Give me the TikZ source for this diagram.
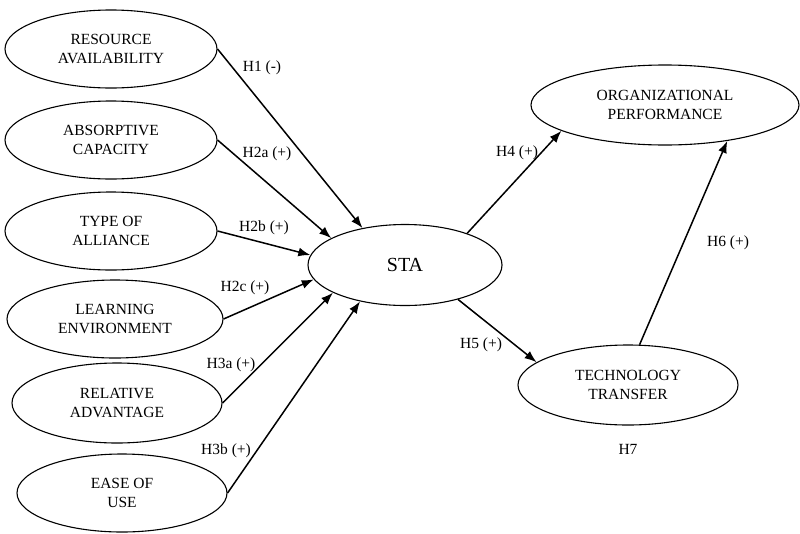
\documentclass[tikz,border=0pt]{standalone}
\usepackage{fontspec}
\setmainfont{Liberation Serif}
\usetikzlibrary{shapes.geometric,arrows.meta}
\tikzset{
  construct/.style={draw, ellipse, line width=1.1pt, inner sep=0pt, align=center,
    font=\fontsize{15.5}{18.5}\selectfont},
  link/.style={line width=1.5pt, -{Latex[length=12pt,width=9pt]}},
  hyp/.style={font=\fontsize{15.5}{18.5}\selectfont, inner sep=0pt}
}
\begin{document}
\begin{tikzpicture}[x=1pt,y=-1pt]
\useasboundingbox (0,0) rectangle (800,533);
% left constructs
\node[construct, minimum width=212pt, minimum height=78pt] (ra) at (111,49) {RESOURCE\\AVAILABILITY};
\node[construct, minimum width=212pt, minimum height=78pt] (ac) at (111,140) {ABSORPTIVE\\CAPACITY};
\node[construct, minimum width=212pt, minimum height=78pt] (ta) at (111,231) {TYPE OF\\ALLIANCE};
\node[construct, minimum width=216pt, minimum height=78pt] (le) at (115,319) {LEARNING\\ENVIRONMENT};
\node[construct, minimum width=210pt, minimum height=80pt] (rv) at (117,403) {RELATIVE\\ADVANTAGE};
\node[construct, minimum width=210pt, minimum height=78pt] (eu) at (122,493) {EASE OF\\USE};
% centre
\node[construct, minimum width=194pt, minimum height=81pt, font=\fontsize{20}{24}\selectfont] (sta) at (405,265) {STA};
% right constructs
\node[construct, minimum width=268pt, minimum height=80pt] (op) at (665,105) {ORGANIZATIONAL\\PERFORMANCE};
\node[construct, minimum width=220pt, minimum height=80pt] (tt) at (628,385) {TECHNOLOGY\\TRANSFER};
% connectors
\draw[link] (ra.east) -- (sta.139);
\draw[link] (ac.east) -- (sta.160);
\draw[link] (ta.east) -- (sta.174);
\draw[link] (le.east) -- (sta.189);
\draw[link] (rv.east) -- (sta.201);
\draw[link] (eu.east) -- (sta.219);
\draw[link] (sta.27) -- (op.194);
\draw[link] (sta.-33) -- (tt.166);
\draw[link] (tt.74) -- (op.330);
% labels
\node[hyp] (l1) at (262,68) {H1 (-)};
\node[hyp] (l2a) at (267,154) {H2a (+)};
\node[hyp] (l2b) at (264,228) {H2b (+)};
\node[hyp] (l2c) at (245,288) {H2c (+)};
\node[hyp] (l3a) at (231,365) {H3a (+)};
\node[hyp] (l3b) at (226,451) {H3b (+)};
\node[hyp] (l4) at (517,153) {H4 (+)};
\node[hyp] (l5) at (481,345) {H5 (+)};
\node[hyp] (l6) at (728,243) {H6 (+)};
\node[hyp] (l7) at (628,449) {H7};
\end{tikzpicture}
\end{document}
